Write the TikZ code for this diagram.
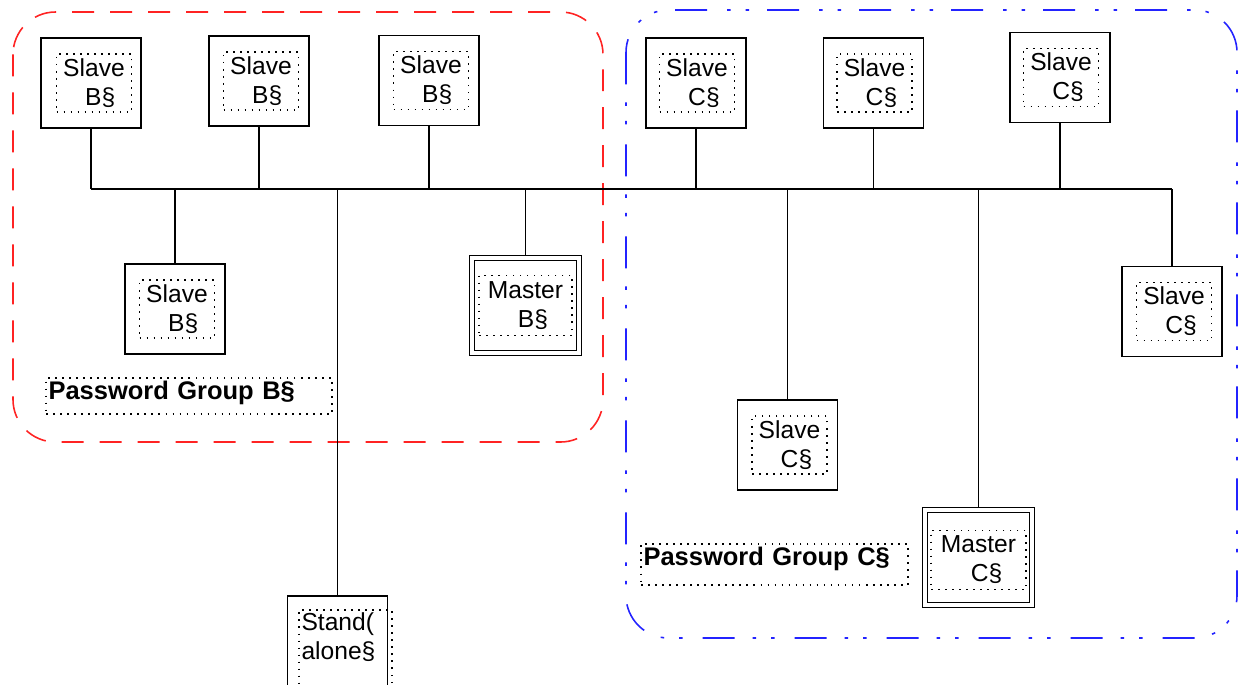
\documentclass[tikz,border=0pt]{standalone}
\usepackage{fontspec}
\setmainfont{Liberation Sans}
\usepackage{tikz}

\definecolor{grpred}{RGB}{255,35,35}
\definecolor{grpblue}{RGB}{35,35,255}

\begin{document}
\begin{tikzpicture}[x=0.02cm, y=-0.02cm,
        wire/.style={line width=1pt},
        unit/.style={draw, line width=1pt, minimum width=2cm, minimum height=1.8cm},
        master/.style={draw, line width=0.9pt, double, double distance=0.07cm, outer sep=0.07cm, minimum width=2.14cm, minimum height=1.9cm},
        inbox/.style={draw, line width=0.9pt, dash pattern=on 0.9pt off 3.1pt, align=left, inner sep=0.05cm, minimum width=1.5cm, minimum height=1.16cm, font=\fontsize{14}{16.5}\selectfont},
        grouptag/.style={draw, line width=0.9pt, dash pattern=on 0.9pt off 3.1pt, align=left, inner sep=0.05cm, text height=0.38cm, font=\fontsize{14.5}{17}\selectfont\bfseries}]
        \useasboundingbox (0,0) rectangle (1239,684);

        % password groups
        \draw[grpred, line width=0.9pt, dash pattern=on 0.44cm off 0.32cm, rounded corners=0.85cm] (13,12) rectangle (603,442);
        \draw[grpblue, line width=0.9pt, dash pattern=on 0.64cm off 0.36cm on 0.07cm off 0.3cm on 0.07cm off 0.4cm, rounded corners=0.85cm] (626,10) rectangle (1237,638);

        % group B
        \node[unit] (sb1) at (91,83) {};
        \node[inbox] (sb1t) at ([xshift=0.06cm]sb1) {Slave\\\hspace*{0.44cm}B§};
        \node[unit] (sb2) at (259,81) {};
        \node[inbox] (sb2t) at ([xshift=0.04cm]sb2) {Slave\\\hspace*{0.44cm}B§};
        \node[unit] (sb3) at (429,80.5) {};
        \node[inbox] (sb3t) at ([xshift=0.04cm]sb3) {Slave\\\hspace*{0.44cm}B§};
        \node[unit] (sb4) at (175,309) {};
        \node[inbox] (sb4t) at ([xshift=0.04cm]sb4) {Slave\\\hspace*{0.44cm}B§};
        \node[master] (mb) at (525.5,305.5) {};
        \node[inbox, minimum width=1.86cm, minimum height=1.2cm] (mbt) at (mb) {Master\\\hspace*{0.6cm}B§};
        \node[grouptag, text width=5.62cm, text depth=0.24cm] (pgb) at (189,396) {Password Group B§};

        % stand alone
        \node[unit] (sa) at (337.5,641) {};
        \node[inbox, anchor=north, text width=1.76cm] (sat) at ([xshift=0.16cm, yshift=-0.28cm]sa.north) {Stand(\\alone§\\\rule{0pt}{0.6cm}};

        % group C
        \node[unit] (sc1) at (696,83) {};
        \node[inbox] (sc1t) at ([xshift=0.02cm]sc1) {Slave\\\hspace*{0.44cm}C§};
        \node[unit] (sc2) at (873.5,83) {};
        \node[inbox] (sc2t) at ([xshift=0.02cm]sc2) {Slave\\\hspace*{0.44cm}C§};
        \node[unit] (sc3) at (1060,77.5) {};
        \node[inbox] (sc3t) at ([xshift=0.02cm]sc3) {Slave\\\hspace*{0.44cm}C§};
        \node[unit] (sc4) at (787.5,445) {};
        \node[inbox] (sc4t) at ([xshift=0.04cm]sc4) {Slave\\\hspace*{0.44cm}C§};
        \node[master] (mc) at (978.5,557.5) {};
        \node[inbox, minimum width=1.9cm, minimum height=1.18cm] (mct) at ([yshift=-0.05cm]mc) {Master\\\hspace*{0.6cm}C§};
        \node[unit] (sc5) at (1172,311.5) {};
        \node[inbox] (sc5t) at ([xshift=0.04cm]sc5) {Slave\\\hspace*{0.44cm}C§};
        \node[grouptag, text width=5.24cm, text depth=0.34cm] (pgc) at (774.5,564.5) {Password Group C§};

        % bus
        \coordinate (bus) at (0,189);
        \draw[wire] (sb1 |- bus) -- (sc5 |- bus);
        \draw[wire] (sb1) -- (sb1 |- bus);
        \draw[wire] (sb2) -- (sb2 |- bus);
        \draw[wire] (sb3) -- (sb3 |- bus);
        \draw[wire] (sc1) -- (sc1 |- bus);
        \draw[wire] (sc2) -- (sc2 |- bus);
        \draw[wire] (sc3) -- (sc3 |- bus);
        \draw[wire] (sb4 |- bus) -- (sb4);
        \draw[wire] (mb |- bus) -- (mb);
        \draw[wire] (sa |- bus) -- (sa);
        \draw[wire] (sc4 |- bus) -- (sc4);
        \draw[wire] (mc |- bus) -- (mc);
        \draw[wire] (sc5 |- bus) -- (sc5);
\end{tikzpicture}
\end{document}
